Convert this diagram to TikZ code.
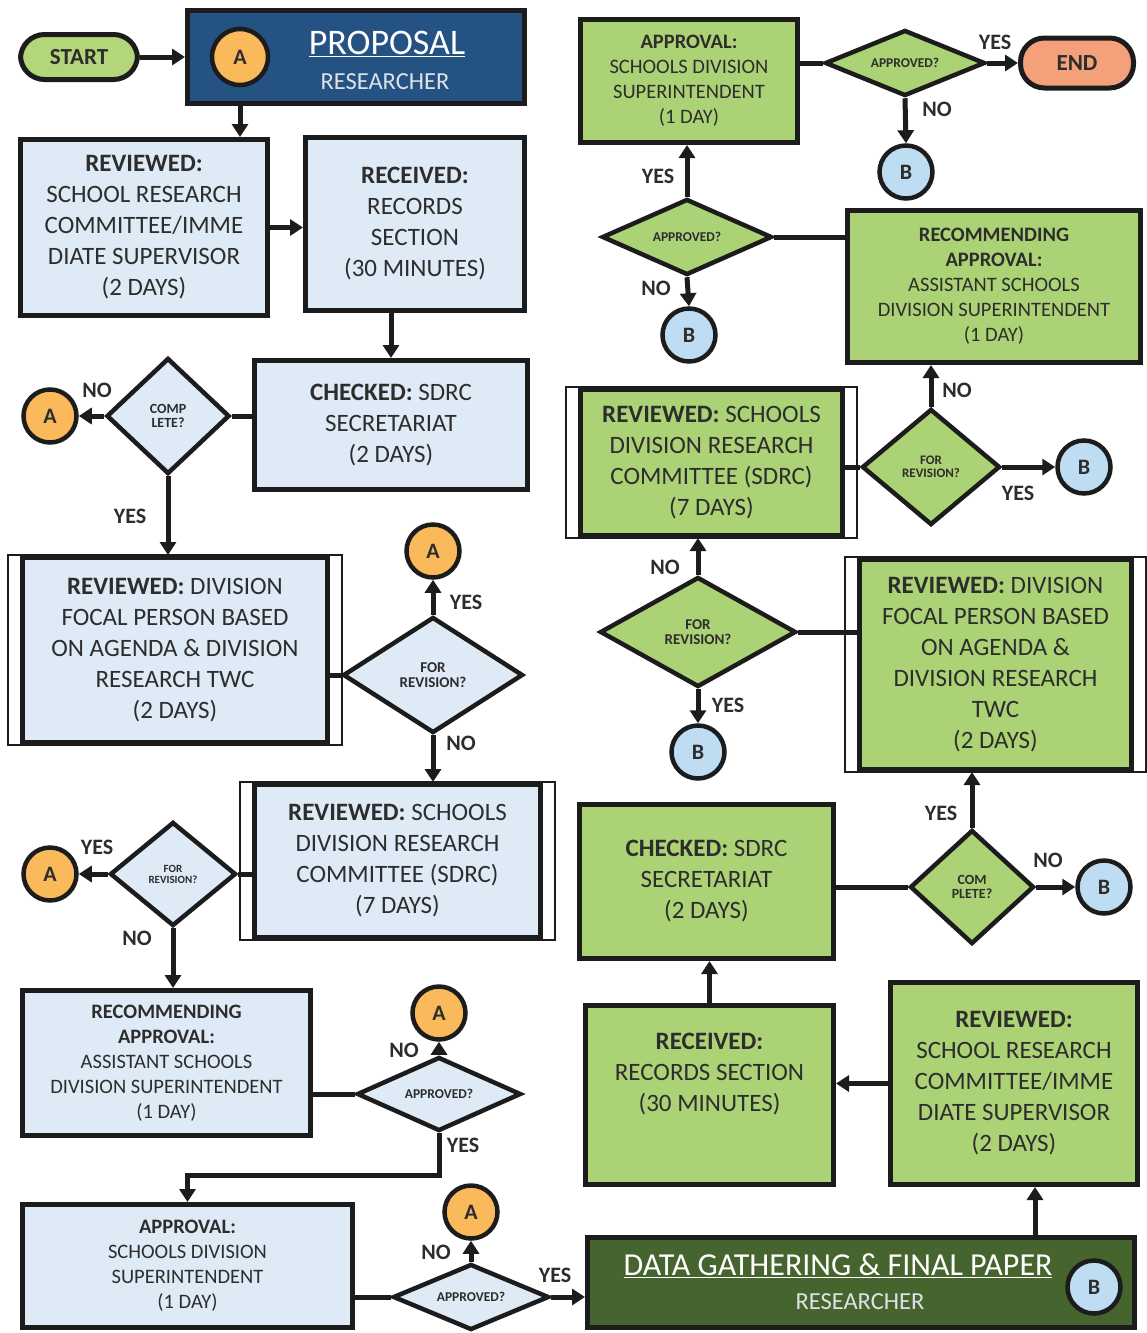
\documentclass[tikz,border=0pt]{standalone}
\usepackage{fontspec}
\setmainfont{Carlito}
\usetikzlibrary{shapes.geometric,arrows.meta}
\definecolor{ink}{RGB}{28,28,28}
\definecolor{txt}{RGB}{45,45,45}
\definecolor{paleblue}{RGB}{222,235,247}
\definecolor{leaf}{RGB}{172,210,118}
\definecolor{startgreen}{RGB}{180,214,122}
\definecolor{navy}{RGB}{36,82,130}
\definecolor{moss}{RGB}{70,100,46}
\definecolor{amber}{RGB}{250,186,92}
\definecolor{skyb}{RGB}{190,221,242}
\definecolor{salmon}{RGB}{244,160,122}
\definecolor{greywhite}{RGB}{222,226,230}
\newcommand{\bigtxt}{\fontsize{25}{31}\selectfont}
\newcommand{\smalltxt}{\fontsize{20.5}{25}\selectfont}
\newcommand{\diatxt}[1]{\bfseries\fontsize{#1}{#1}\selectfont}
\tikzset{
  bbox/.style 2 args={draw=ink, fill=paleblue, line width=5pt, align=center, inner sep=0pt,
    text=txt, font=\bigtxt, minimum width=#1pt, minimum height=#2pt},
  gbox/.style 2 args={bbox={#1}{#2}, fill=leaf},
  dia/.style 2 args={diamond, aspect=2, draw=ink, line width=4.5pt, inner sep=0pt, align=center,
    text=txt, font=\diatxt{13}, minimum width=#1pt, minimum height=#2pt},
  bdia/.style 2 args={dia={#1}{#2}, fill=paleblue},
  gdia/.style 2 args={dia={#1}{#2}, fill=leaf},
  circ/.style={circle, draw=ink, line width=4.5pt, minimum size=53pt, inner sep=0pt,
    text=txt, font=\bfseries\fontsize{22}{22}\selectfont},
  acirc/.style={circ, fill=amber},
  bcirc/.style={circ, fill=skyb},
  pill/.style={draw=ink, line width=5pt, rounded corners=24pt, inner sep=0pt,
    text=txt, font=\bfseries\fontsize{23}{23}\selectfont},
  lbl/.style={inner sep=0pt, text=txt, font=\bfseries\fontsize{22}{22}\selectfont},
  ln/.style={draw=ink, line width=5pt},
  arr/.style={ln, -{Triangle[length=13pt,width=16pt]}},
  frame/.style={draw=ink, line width=1.6pt}
}
\begin{document}
\begin{tikzpicture}[x=1pt,y=-1pt]
\useasboundingbox (0,0) rectangle (1146,1333);
% left column
\node[pill, fill=startgreen, minimum width=117pt, minimum height=45pt] (start) at (79,57) {START};
\node[draw=ink, fill=navy, line width=5pt, minimum width=337pt, minimum height=93pt] (prop) at (356,57) {};
\node[acirc, minimum size=56pt] (a1) at (240,57) {A};
\node[text=white, font=\fontsize{36}{36}\selectfont] (pt1) at (387,44) {\underline{PROPOSAL}};
\node[text=greywhite, font=\fontsize{24.5}{24.5}\selectfont] (pt2) at (385,82) {RESEARCHER};
\node[bbox={247}{176}] (b1) at (144,227.5) {\textbf{REVIEWED:}\\SCHOOL RESEARCH\\COMMITTEE/IMME\\DIATE SUPERVISOR\\(2 DAYS)};
\node[bbox={219}{173}] (b2) at (415,224) {\textbf{RECEIVED:}\\RECORDS\\SECTION\\(30 MINUTES)};
\node[bbox={273}{129}] (b3) at (391,425) {\textbf{CHECKED:} SDRC\\SECRETARIAT\\(2 DAYS)};
\node[bdia={123}{116}, font=\diatxt{14}] (d1) at (168,416) {COMP\\LETE?};
\node[acirc] (a2) at (50,416) {A};
\node[bbox={305}{185}] (b4) at (175,650) {\textbf{REVIEWED:} DIVISION\\FOCAL PERSON BASED\\ON AGENDA \& DIVISION\\RESEARCH TWC\\(2 DAYS)};
\draw[frame] ([xshift=-12pt]b4.north west) rectangle ([xshift=12pt]b4.south east);
\node[bdia={180}{116}, font=\diatxt{15}] (d2) at (433,675) {FOR\\REVISION?};
\node[acirc] (a3) at (433,551) {A};
\node[bbox={286}{153}] (b5) at (397.5,861) {\textbf{REVIEWED:} SCHOOLS\\DIVISION RESEARCH\\COMMITTEE (SDRC)\\(7 DAYS)};
\draw[frame] ([xshift=-12pt]b5.north west) rectangle ([xshift=12pt]b5.south east);
\node[bdia={126}{104}, font=\diatxt{11}] (d3) at (173,874) {FOR\\REVISION?};
\node[acirc] (a4) at (50,874) {A};
\node[bbox={288}{145}, font=\smalltxt] (b6) at (166.5,1063) {\textbf{RECOMMENDING}\\\textbf{APPROVAL:}\\ASSISTANT SCHOOLS\\DIVISION SUPERINTENDENT\\(1 DAY)};
\node[bdia={164}{74}, font=\diatxt{13.5}] (d4) at (439,1094) {APPROVED?};
\node[acirc] (a5) at (439,1013) {A};
\node[bbox={330}{123}, font=\smalltxt] (b7) at (187.5,1266) {\textbf{APPROVAL:}\\SCHOOLS DIVISION\\SUPERINTENDENT\\(1 DAY)};
\node[bdia={156}{66}, font=\diatxt{13.5}] (d5) at (471,1297) {APPROVED?};
\node[acirc] (a6) at (471,1212) {A};
% right column
\node[draw=ink, fill=moss, line width=5pt, minimum width=547pt, minimum height=90pt] (data) at (861,1282.5) {};
\node[text=white, font=\fontsize{32}{32}\selectfont] (dt1) at (838,1266) {\underline{DATA GATHERING \& FINAL PAPER}};
\node[text=greywhite, font=\fontsize{24.5}{24.5}\selectfont] (dt2) at (860,1302) {RESEARCHER};
\node[bcirc] (bc6) at (1094,1287) {B};
\node[gbox={247}{202}] (g7) at (1014,1083.5) {\textbf{REVIEWED:}\\SCHOOL RESEARCH\\COMMITTEE/IMME\\DIATE SUPERVISOR\\(2 DAYS)};
\node[gbox={248}{179}] (g6) at (709.5,1095) {\textbf{RECEIVED:}\\RECORDS SECTION\\(30 MINUTES)\\[14pt]};
\node[gbox={254}{154}] (g5) at (706.5,881.5) {\textbf{CHECKED:} SDRC\\SECRETARIAT\\(2 DAYS)};
\node[gdia={124}{114}, font=\diatxt{14}] (d6) at (972,887) {COM\\PLETE?};
\node[bcirc] (bc5) at (1104,887) {B};
\node[gbox={272}{210}] (g4) at (995.5,664.5) {\textbf{REVIEWED:} DIVISION\\FOCAL PERSON BASED\\ON AGENDA \&\\DIVISION RESEARCH\\TWC\\(2 DAYS)};
\draw[frame] ([xshift=-12pt]g4.north west) rectangle ([xshift=12pt]g4.south east);
\node[gdia={196}{110}, font=\diatxt{15}] (d7) at (698,632) {FOR\\REVISION?};
\node[bcirc] (bc4) at (698,752) {B};
\node[gbox={262}{146}] (g3) at (711.5,462.5) {\textbf{REVIEWED:} SCHOOLS\\DIVISION RESEARCH\\COMMITTEE (SDRC)\\(7 DAYS)};
\draw[frame] ([xshift=-12pt]g3.north west) rectangle ([xshift=12pt]g3.south east);
\node[gdia={138}{116}, font=\diatxt{13}] (d8) at (931,467) {FOR\\REVISION?};
\node[bcirc] (bc3) at (1084,467) {B};
\node[gbox={293}{152}, font=\smalltxt] (g2) at (994,286.5) {\textbf{RECOMMENDING}\\\textbf{APPROVAL:}\\ASSISTANT SCHOOLS\\DIVISION SUPERINTENDENT\\(1 DAY)};
\node[gdia={170}{76}, font=\diatxt{13.5}] (d9) at (687,237) {APPROVED?};
\node[bcirc] (bc2) at (689,335) {B};
\node[gbox={217}{123}, font=\smalltxt] (g1) at (689,81) {\textbf{APPROVAL:}\\SCHOOLS DIVISION\\SUPERINTENDENT\\(1 DAY)};
\node[gdia={160}{66}, font=\diatxt{13.5}] (d10) at (905,63) {APPROVED?};
\node[bcirc] (bc1) at (906,172) {B};
\node[pill, fill=salmon, minimum width=113pt, minimum height=50pt] (end) at (1077,63) {END};
% yes / no
\node[lbl] (no1) at (97,390) {NO};
\node[lbl] (yes1) at (130,516) {YES};
\node[lbl] (yes2) at (466,602) {YES};
\node[lbl] (no2) at (461,743) {NO};
\node[lbl] (yes3) at (97,847) {YES};
\node[lbl] (no3) at (137,938) {NO};
\node[lbl] (no4) at (404,1050) {NO};
\node[lbl] (yes4) at (463,1145) {YES};
\node[lbl] (no5) at (436,1252) {NO};
\node[lbl] (yes5) at (555,1275) {YES};
\node[lbl] (yes6) at (995,42) {YES};
\node[lbl] (no6) at (937,109) {NO};
\node[lbl] (yes7) at (658,176) {YES};
\node[lbl] (no7) at (656,288) {NO};
\node[lbl] (no8) at (957,390) {NO};
\node[lbl] (yes8) at (1018,493) {YES};
\node[lbl] (no9) at (665,567) {NO};
\node[lbl] (yes9) at (728,705) {YES};
\node[lbl] (yes10) at (941,813) {YES};
\node[lbl] (no10) at (1048,860) {NO};
% connectors
\draw[arr] (start) -- (prop);
\draw[arr] (a1 |- prop.south) -- (a1 |- b1.north);
\draw[arr] (b1.east) -- (b1.east -| b2.west);
\draw[arr] (b3.north |- b2.south) -- (b3.north);
\draw[ln] (d1.east -| b3.west) -- (d1.east);
\draw[arr] (d1.west) -- (a2.east);
\draw[arr] (d1.south) -- (d1.south |- b4.north);
\draw[ln] (b4.east |- d2.west) -- (d2.west);
\draw[arr] (d2.north) -- (a3.south);
\draw[arr] (d2.south) -- (d2.south |- b5.north);
\draw[ln] (b5.west |- d3.east) -- (d3.east);
\draw[arr] (d3.west) -- (a4.east);
\draw[arr] (d3.south) -- (d3.south |- b6.north);
\draw[ln] (b6.east |- d4.west) -- (d4.west);
\draw[arr] (d4.north) -- (a5.south);
\draw[arr] (d4.south) -- ++(0,42) -| (b7.north);
\draw[ln] (b7.east |- d5.west) -- (d5.west);
\draw[arr] (d5.north) -- (a6.south);
\draw[arr] (d5.east) -- (d5.east -| data.west);
\draw[arr] ([xshift=21pt]g7.south |- data.north) -- ([xshift=21pt]g7.south);
\draw[arr] (g7.west) -- (g7.west -| g6.east);
\draw[arr] (g6.north) -- (g6.north |- g5.south);
\draw[ln] (g5.east |- d6.west) -- (d6.west);
\draw[arr] (d6.east) -- (bc5.west);
\draw[arr] (d6.north) -- (d6.north |- g4.south);
\draw[ln] (d7.east) -- (d7.east -| g4.west);
\draw[arr] (d7.north) -- (d7.north |- g3.south);
\draw[arr] (d7.south) -- (bc4.north);
\draw[ln] (g3.east |- d8.west) -- (d8.west);
\draw[arr] (d8.east) -- (bc3.west);
\draw[arr] (d8.north) -- (d8.north |- g2.south);
\draw[ln] (d9.east) -- (d9.east -| g2.west);
\draw[arr] (d9.south) -- (bc2.north);
\draw[arr] (d9.north) -- (d9.north |- g1.south);
\draw[ln] (g1.east |- d10.west) -- (d10.west);
\draw[arr] (d10.east) -- (end.west);
\draw[arr] (d10.south) -- (bc1.north);
\end{tikzpicture}
\end{document}
